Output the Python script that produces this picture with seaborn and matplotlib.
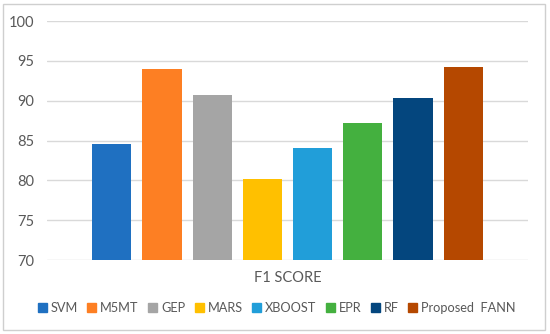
import matplotlib
matplotlib.use("Agg")
import matplotlib.pyplot as plt
import seaborn as sns
import pandas as pd
from matplotlib.patches import Rectangle

# chart data
models = ["SVM", "M5MT", "GEP", "MARS", "XBOOST", "EPR", "RF", "Proposed  FANN"]
f1_scores = [84.5, 94.0, 90.7, 80.2, 84.1, 87.2, 90.3, 94.2]
category = ["F1 SCORE"] * len(models)
colors = ["#1f70c1", "#fd7f23", "#a5a5a5", "#ffc000", "#219ed9", "#44b03f", "#04467e", "#b54800"]
y_ticks = [70, 75, 80, 85, 90, 95, 100]

df = pd.DataFrame({"metric": category, "model": models, "score": f1_scores})

sns.set_style("white")
plt.rcParams["font.family"] = ["Lato", "DejaVu Sans"]

fig = plt.figure(figsize=(5.5, 3.34), dpi=100)
ax = fig.add_axes([47 / 550, 1 - 260 / 334, 481 / 550, 239 / 334])

sns.barplot(data=df, x="metric", y="score", hue="model", palette=colors,
            saturation=1, width=0.835, gap=0.22, linewidth=0, ax=ax, legend=False)

ax.set_ylim(70, 100)
ax.set_yticks(y_ticks)
ax.set_xlim(-0.5, 0.5)
ax.yaxis.grid(True, color="#d9d9d9", linewidth=1)
ax.set_axisbelow(True)
sns.despine(ax=ax, left=True, bottom=True)
ax.tick_params(axis="both", length=0, labelsize=10.5, labelcolor="#595959")
ax.tick_params(axis="y", pad=9)
ax.tick_params(axis="x", pad=8)
ax.set_xlabel("")
ax.set_ylabel("")

handles = [Rectangle((0, 0), 1, 1, color=c) for c in colors]
fig.legend(handles, models, loc="center", bbox_to_anchor=(0.503, 1 - 308 / 334),
           ncol=8, frameon=False, fontsize=9.2, handlelength=0.7, handleheight=0.7,
           handletextpad=0.3, columnspacing=0.75, labelcolor="#595959",
           borderaxespad=0, borderpad=0)

fig.add_artist(Rectangle((3 / 550, 4 / 334), 542 / 550, 326 / 334,
                         transform=fig.transFigure, fill=False,
                         edgecolor="#cfcfcf", linewidth=1))

fig.savefig("out.png", dpi=100)
